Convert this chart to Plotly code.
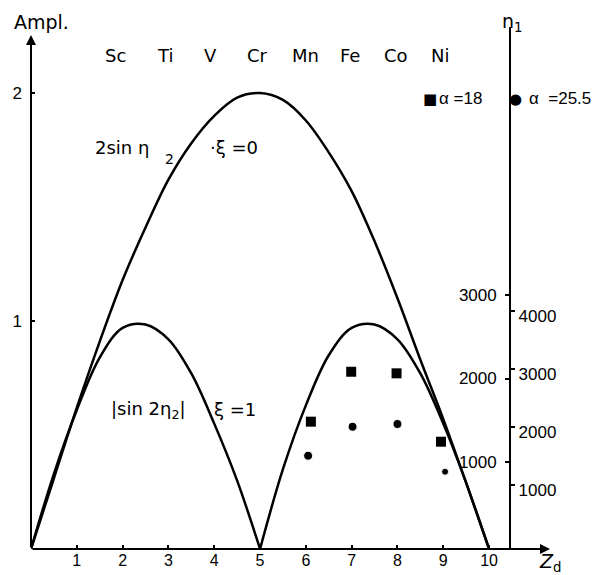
import plotly.graph_objects as go

# ---- data ----
z_big = [0, 0.5, 1, 1.5, 2, 2.5, 3, 3.5, 4, 4.5, 5, 5.5, 6, 6.5, 7, 7.5, 8, 8.5, 9, 9.5, 10]
amp_big = [0, 0.31, 0.62, 0.91, 1.18, 1.41, 1.62, 1.78, 1.90, 1.98, 2.00,
           1.97, 1.88, 1.74, 1.57, 1.35, 1.10, 0.83, 0.57, 0.29, 0]

z_hump1 = [0, 0.5, 1, 1.5, 2, 2.5, 3, 3.5, 4, 4.5, 5]
amp_hump1 = [0, 0.33, 0.61, 0.84, 0.97, 0.985, 0.92, 0.77, 0.55, 0.30, 0]
z_hump2 = [5, 5.5, 6, 6.5, 7, 7.5, 8, 8.5, 9, 9.5, 10]
amp_hump2 = [0, 0.35, 0.63, 0.85, 0.97, 0.985, 0.92, 0.77, 0.55, 0.29, 0]

z_sq = [6.11, 6.99, 7.98, 8.95]
n1_sq = [1483, 2081, 2062, 1243]      # alpha = 18 (inner n1 scale)
z_ci = [6.05, 7.02, 8.00, 9.04]
n1_ci = [1505, 2005, 2052, 1229]      # alpha = 25.5 (outer n1 scale)
ci_size = [9, 9, 9, 7]

elements = ["Sc", "Ti", "V", "Cr", "Mn", "Fe", "Co", "Ni"]
element_z = [1.85, 2.92, 3.92, 4.94, 5.99, 6.97, 7.97, 8.93]

x_ticks = [1, 2, 3, 4, 5, 6, 7, 8, 9, 10]
y_ticks = [1, 2]
n1_inner_ticks = [1000, 2000, 3000]
n1_outer_ticks = [1000, 2000, 3000, 4000]

XMAX = 11.33
YMAX = 2.29
AXIS_POS = 10.46

fig = go.Figure()
line = dict(color="black", width=2.5, shape="spline", smoothing=1.0)
fig.add_trace(go.Scatter(x=z_big, y=amp_big, mode="lines", line=line))
fig.add_trace(go.Scatter(x=z_hump1, y=amp_hump1, mode="lines", line=line))
fig.add_trace(go.Scatter(x=z_hump2, y=amp_hump2, mode="lines", line=line))
fig.add_trace(go.Scatter(x=z_sq, y=n1_sq, yaxis="y2", mode="markers",
                         marker=dict(symbol="square", size=10, color="black", opacity=1)))
fig.add_trace(go.Scatter(x=z_ci, y=n1_ci, yaxis="y3", mode="markers",
                         marker=dict(symbol="circle", size=ci_size, color="black", opacity=1)))

num_font = dict(family="Liberation Sans", size=17, color="black")
txt_font = dict(family="DejaVu Sans", size=18, color="black")
lbl_font = dict(family="DejaVu Sans", size=19, color="black")

ann = []
# axis arrows
ann.append(dict(x=XMAX, y=0, ax=0, ay=0, xref="x", yref="y", axref="x", ayref="y",
                showarrow=True, arrowhead=2, arrowsize=1, arrowwidth=2, arrowcolor="black", text=""))
ann.append(dict(x=0, y=2.255, ax=0, ay=0, xref="x", yref="y", axref="x", ayref="y",
                showarrow=True, arrowhead=2, arrowsize=1, arrowwidth=2, arrowcolor="black", text=""))
# element labels
for el, ez in zip(elements, element_z):
    ann.append(dict(x=ez, y=2.167, text=el, showarrow=False, font=txt_font,
                    xanchor="center", yanchor="middle"))
# axis titles (paper coordinates, outside the plot range)
ann.append(dict(x=0.22 / XMAX, y=2.311 / YMAX, xref="paper", yref="paper", text="Ampl.",
                showarrow=False, font=lbl_font, xanchor="center", yanchor="middle"))
ann.append(dict(x=10.52 / XMAX, y=2.311 / YMAX, xref="paper", yref="paper",
                text="n<sub>1</sub>", showarrow=False, font=lbl_font,
                xanchor="center", yanchor="middle"))
ann.append(dict(x=11.33 / XMAX, y=-0.06 / YMAX, xref="paper", yref="paper",
                text="<i>Z</i><sub>d</sub>", showarrow=False, font=lbl_font,
                xanchor="center", yanchor="middle"))
# curve labels
ann.append(dict(x=1.35, y=1.763, text="2sin η", showarrow=False, font=txt_font,
                xanchor="left", yanchor="middle"))
ann.append(dict(x=3.03, y=1.713, text="2", showarrow=False,
                font=dict(family="DejaVu Sans", size=14, color="black"),
                xanchor="center", yanchor="middle"))
ann.append(dict(x=3.86, y=1.763, text="·ξ =0", showarrow=False, font=txt_font,
                xanchor="left", yanchor="middle"))
ann.append(dict(x=1.70, y=0.61, text="|sin 2η<sub>2</sub>|", showarrow=False, font=txt_font,
                xanchor="left", yanchor="middle"))
ann.append(dict(x=3.95, y=0.61, text="ξ =1", showarrow=False, font=txt_font,
                xanchor="left", yanchor="middle"))
# legend keys
ann.append(dict(x=8.71, y=1.975, text="■", showarrow=False,
                font=dict(family="DejaVu Sans", size=15, color="black"),
                xanchor="center", yanchor="middle"))
ann.append(dict(x=8.87, y=1.975, text="α =18", showarrow=False, font=num_font,
                xanchor="left", yanchor="middle"))
ann.append(dict(x=10.57, y=1.975, text="●", showarrow=False,
                font=dict(family="DejaVu Sans", size=15, color="black"),
                xanchor="center", yanchor="middle"))
ann.append(dict(x=10.83, y=1.975, text="α  =25.5", showarrow=False, font=num_font,
                xanchor="left", yanchor="middle"))

pos = AXIS_POS / XMAX

# the page body adds an 8 px offset, so the figure is drawn 8 px smaller
fig.update_layout(
    width=597, height=567,
    margin=dict(l=23, r=55, t=19, b=26, autoexpand=False),
    paper_bgcolor="white", plot_bgcolor="white",
    showlegend=False,
    font=num_font,
    xaxis=dict(range=[0, XMAX], tickvals=x_ticks, ticks="inside", ticklen=4,
               tickwidth=1.5, tickcolor="black", showline=False, showgrid=False,
               zeroline=False, automargin=False,
               tickfont=dict(family="Liberation Sans", size=16, color="black")),
    yaxis=dict(range=[0, YMAX], tickvals=y_ticks, ticks="inside", ticklen=4,
               tickwidth=1.5, tickcolor="black", showline=False, showgrid=False,
               zeroline=False, ticklabelstandoff=8, automargin=False, tickfont=num_font),
    yaxis2=dict(range=[-42, 6210], overlaying="y", anchor="free", position=pos,
                side="left", tickvals=n1_inner_ticks, ticks="outside", ticklen=4,
                tickwidth=1.5, tickcolor="black", showline=True, linecolor="black",
                linewidth=2, showgrid=False, zeroline=False, ticklabelstandoff=5,
                automargin=False, tickfont=num_font),
    yaxis3=dict(range=[-103, 8897], overlaying="y", anchor="free", position=pos,
                side="right", tickvals=n1_outer_ticks, ticks="outside", ticklen=4,
                tickwidth=1.5, tickcolor="black", showline=False, showgrid=False,
                zeroline=False, ticklabelshift=5, automargin=False, tickfont=num_font),
    annotations=ann,
)

fig.write_html("out.html")
